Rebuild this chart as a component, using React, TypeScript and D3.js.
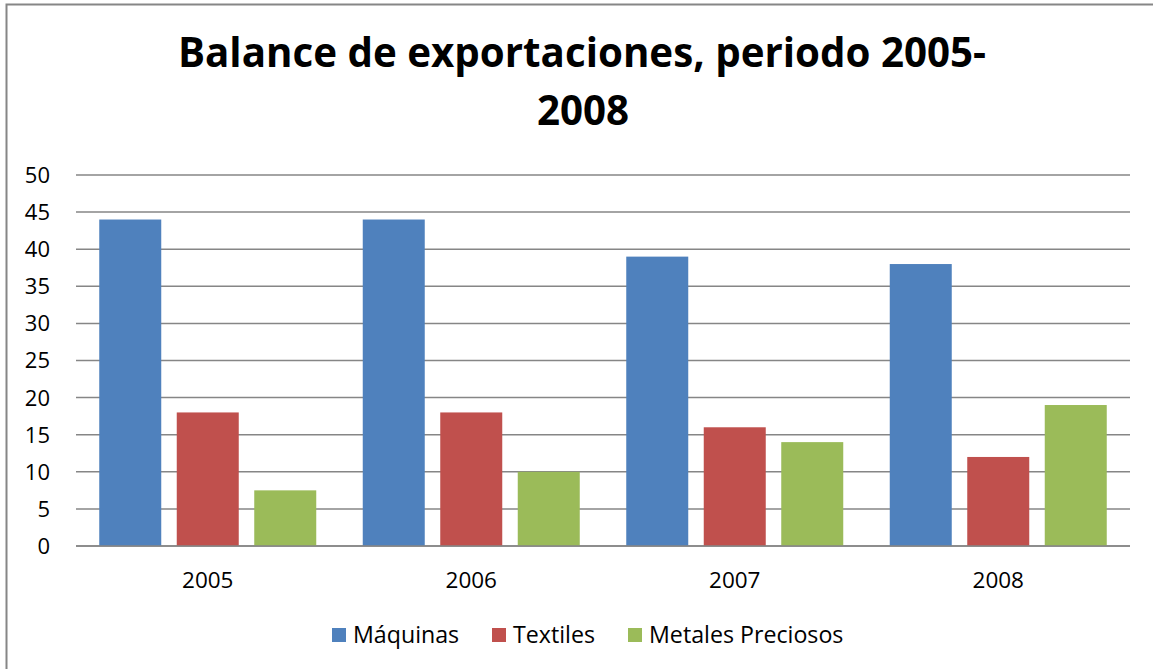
import * as d3 from 'd3';
import React from 'react';

const years = ['2005', '2006', '2007', '2008'];
const seriesNames = ['Máquinas', 'Textiles', 'Metales Preciosos'];
const maquinas = [44, 44, 39, 38];
const textiles = [18, 18, 16, 12];
const metales = [7.5, 10, 14, 19];
const yTicks = [0, 5, 10, 15, 20, 25, 30, 35, 40, 45, 50];
const colors = ['#4F81BD', '#C0504D', '#9BBB59'];

const W = 1153;
const H = 669;
const FONT = "'Open Sans', 'DejaVu Sans', sans-serif";

export default function App() {
    const values = [maquinas, textiles, metales];

    const x = d3.scaleBand().domain(years).range([76, 1130]).padding(0);
    const xs = d3.scaleBand()
        .domain(seriesNames)
        .range([0, x.bandwidth()])
        .paddingInner(0.2)
        .paddingOuter(0.3);
    const y = d3.scaleLinear().domain([0, 50]).range([546, 175]);

    // leyenda: cuadrado + texto, posiciones a mano
    const legendX = [332, 492, 628];

    return (
        <svg width={W} height={H} style={{ position: 'absolute', left: 0, top: 0, background: '#fff' }}>
            <rect x={6.5} y={4.5} width={W + 10} height={H + 10} fill="#fff" stroke="#868686" strokeWidth={2} />

            <text x={582} y={67} textAnchor="middle" fontFamily={FONT} fontWeight={700} fontSize={40.3} fill="#000">
                Balance de exportaciones, periodo 2005-
            </text>
            <text x={583} y={125} textAnchor="middle" fontFamily={FONT} fontWeight={700} fontSize={40.3} fill="#000">
                2008
            </text>

            {yTicks.map(t => (
                <g key={t}>
                    <line x1={76} x2={1130} y1={y(t)} y2={y(t)} stroke="#868686" strokeWidth={1.5} />
                    <text x={50} y={y(t)} dy="0.36em" textAnchor="end" fontFamily={FONT} fontSize={22} fill="#000">
                        {t}
                    </text>
                </g>
            ))}

            {years.map((yr, i) => (
                <g key={yr} transform={`translate(${x(yr)},0)`}>
                    {seriesNames.map((s, j) => (
                        <rect
                            key={s}
                            x={xs(s)}
                            y={y(values[j][i])}
                            width={xs.bandwidth()}
                            height={y(0) - y(values[j][i])}
                            fill={colors[j]}
                        />
                    ))}
                    <text x={x.bandwidth() / 2} y={588} textAnchor="middle" fontFamily={FONT} fontSize={22.5} fill="#000">
                        {yr}
                    </text>
                </g>
            ))}
            <line x1={76} x2={1130} y1={y(0)} y2={y(0)} stroke="#868686" strokeWidth={1.5} />

            {seriesNames.map((s, j) => (
                <g key={s} transform={`translate(${legendX[j]},628)`}>
                    <rect x={0} y={0} width={14} height={14} fill={colors[j]} />
                    <text x={21} y={7} dy="0.36em" fontFamily={FONT} fontSize={23.2} fill="#000">
                        {s}
                    </text>
                </g>
            ))}
        </svg>
    );
}
